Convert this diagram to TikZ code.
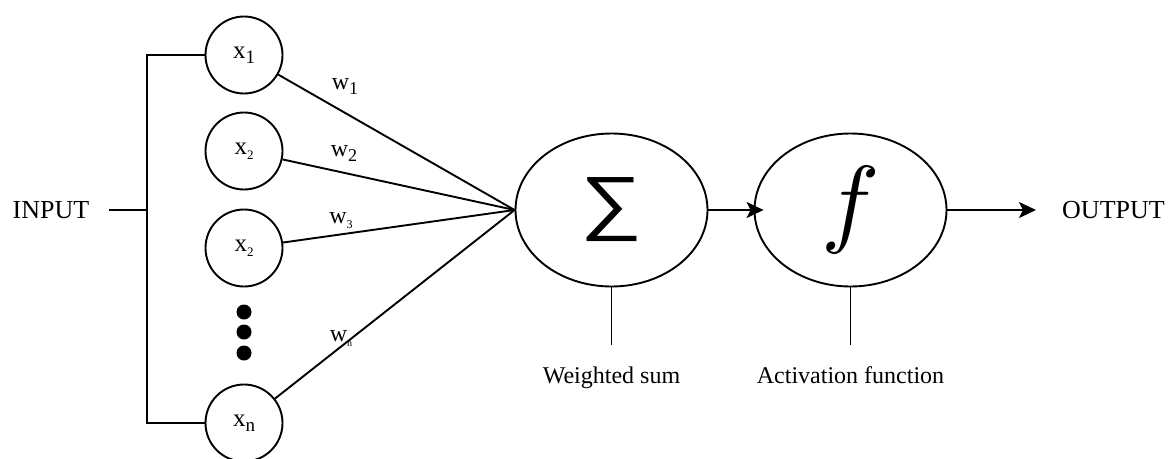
\documentclass[tikz,border=0pt]{standalone}
\usepackage{fontspec}
\setmainfont{Liberation Serif}
\newfontfamily\symfont{Liberation Sans}
\usepackage{graphicx}
\usetikzlibrary{arrows.meta,shapes.geometric}
\tikzset{
  inp/.style={circle, draw, line width=1.9pt, minimum size=77pt, inner sep=0pt},
  big/.style={ellipse, draw, line width=1.9pt, minimum width=192pt, minimum height=153pt, inner sep=0pt},
  wire/.style={line width=1.9pt},
  arr/.style={line width=1.9pt, -{Stealth[length=17pt, width=16pt, inset=4pt]}},
  lbl/.style={font=\fontsize{24}{24}\selectfont, inner sep=0pt, anchor=base},
  dot/.style={circle, fill, minimum size=15pt, inner sep=0pt},
}
\newcommand{\xs}[2]{{\fontsize{25}{25}\selectfont x}\raisebox{-5pt}{\fontsize{#2}{#2}\selectfont #1}}
\newcommand{\ws}[2]{{\fontsize{24}{24}\selectfont w}\raisebox{-5pt}{\fontsize{#2}{#2}\selectfont #1}}
\begin{document}
\begin{tikzpicture}[x=1pt, y=-1pt]
\useasboundingbox (0,0) rectangle (1169,458);
\node[inp] (x1) at (244,55) {\xs{1}{19}};
\node[inp] (x2) at (244,151) {\xs{2}{13}};
\node[inp] (x3) at (244,248) {\xs{2}{13}};
\node[inp] (xn) at (244,423) {\xs{n}{19}};
\node[dot] (d1) at (244,312) {};
\node[dot] (d2) at (244,332) {};
\node[dot] (d3) at (244,353) {};
\node[big] (sum) at (611.5,210) {\resizebox*{62pt}{64pt}{\symfont ∑}};
\node[big] (act) at (850.5,210) {\raisebox{-18pt}{\scalebox{9.8}{$f$}}};
\node[font=\fontsize{26}{26}\selectfont, inner sep=0pt] (in) at (51,210) {INPUT};
\node[font=\fontsize{26}{26}\selectfont, inner sep=0pt, anchor=west] (out) at (1062,210) {OUTPUT};
\coordinate (bt) at (147,55);
\coordinate (bb) at (147,423);
\coordinate (bm) at (147,210);
\coordinate (inl) at (109,210);
\draw[wire] (x1.west) -- (bt) -- (bb) -- (xn.west);
\draw[wire] (inl) -- (bm);
\foreach \n in {x1,x2,x3,xn} \draw[wire] (\n) -- (sum.west);
\node (w1) at (345,86) {\ws{1}{18}};
\node (w2) at (344,153) {\ws{2}{18}};
\node (w3) at (341,221) {\ws{3}{12}};
\node (wn) at (341,338) {\ws{n}{10}};
\draw[arr, shorten >=-10pt] (sum.east) -- (act.west);
\coordinate (oe) at (1036,210);
\draw[arr] (act.east) -- (oe);
\coordinate (s1) at (611.5,345);
\coordinate (a1) at (850.5,345);
\draw[wire] (sum.south) -- (s1);
\draw[wire] (act.south) -- (a1);
\node[lbl] (ws) at (611.5,383) {Weighted sum};
\node[lbl] (af) at (850.5,383) {Activation function};
\end{tikzpicture}
\end{document}
